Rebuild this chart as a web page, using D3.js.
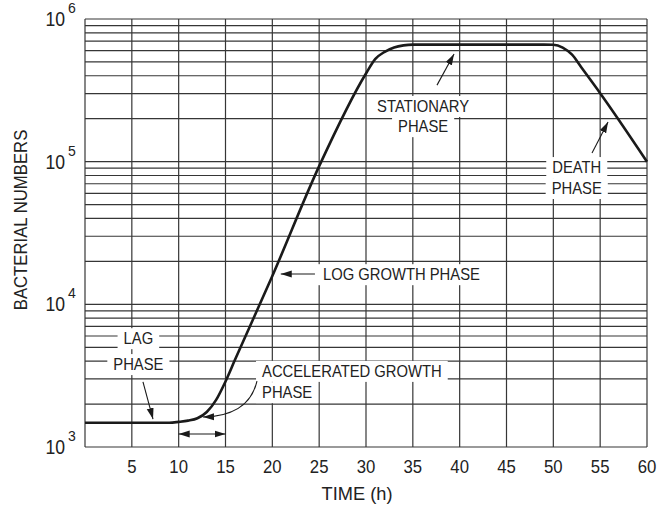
<!DOCTYPE html>
<html>
<head>
<meta charset="utf-8">
<script src="https://cdn.jsdelivr.net/npm/d3@7"></script>
<style>
  html, body { margin: 0; padding: 0; background: #fff; }
  svg text { font-family: "Liberation Sans", Arial, Helvetica, sans-serif; fill: #222; }
</style>
</head>
<body>
<svg id="chart" width="666" height="510"></svg>
<script>
// ---- data ----
const times  = [0, 9, 10, 11, 12, 13, 14, 15, 16, 20, 25, 30, 31, 32, 33, 34, 35, 49, 50, 51, 52, 53, 55, 60];
const counts = [1480, 1480, 1500, 1530, 1590, 1760, 2140, 2880, 4070, 15800, 93000, 415000,
                525000, 589000, 631000, 653000, 661000, 661000, 660000, 631000, 562000, 457000, 302000, 100000];
const xTickValues = [5, 10, 15, 20, 25, 30, 35, 40, 45, 50, 55, 60];
const yDecades = [1e3, 1e4, 1e5, 1e6];
const yExponents = ["3", "4", "5", "6"];
const xTitle = "TIME (h)";
const yTitle = "BACTERIAL NUMBERS";

// annotations in data units
const labels = [
  { lines: ["LAG", "PHASE"], t: 5.7, v: [5800, 3820], anchor: "middle", centerY: true },
  { lines: ["ACCELERATED GROWTH", "PHASE"], t: 18.9, v: [3100, 2200], anchor: "start" },
  { lines: ["LOG GROWTH PHASE"], t: 25.4, v: [16300], anchor: "start", centerY: true },
  { lines: ["STATIONARY", "PHASE"], t: 36.1, v: [223000, 161000], anchor: "middle" },
  { lines: ["DEATH", "PHASE"], t: 52.5, v: [83200, 59300], anchor: "middle" }
];
const arrows = [
  { from: [6.19, 2860], to: [7.26, 1570] },
  { from: [24.55, 16300], to: [20.9, 16300] },
  { from: [37.58, 344000], to: [39.4, 568000] },
  { from: [54.13, 115000], to: [55.84, 190000] }
];
const doubleArrow = { t0: 10, t1: 15, v: 1233 };
const curvedArrow = { from: [18.36, 2900], ctrl: [17.5, 1650], to: [12.6, 1622] };

// ---- layout ----
const L = 85, R = 647, T = 19, B = 447;
const svg = d3.select("#chart");
const x = d3.scaleLinear().domain([0, 60]).range([L, R]);
const y = d3.scaleLog().domain([1e3, 1e6]).range([B, T]);
const SQ = 0.88;
function squeeze(sel, k) {
  sel.each(function () {
    const w = this.getComputedTextLength();
    d3.select(this).attr("textLength", w * (k || SQ)).attr("lengthAdjust", "spacingAndGlyphs");
  });
}

// grid
const gridColor = "#363636";
const hVals = [];
[1e3, 1e4, 1e5].forEach(d => { for (let m = 1; m <= 9; m++) hVals.push(m * d); });
hVals.push(1e6);
const grid = svg.append("g").attr("stroke", gridColor).attr("stroke-width", 1.2);
grid.selectAll("line.h").data(hVals).join("line").attr("class", "h")
  .attr("x1", L).attr("x2", R).attr("y1", d => y(d)).attr("y2", d => y(d));
grid.selectAll("line.v").data([0].concat(xTickValues)).join("line").attr("class", "v")
  .attr("x1", d => x(d)).attr("x2", d => x(d)).attr("y1", T).attr("y2", B);

// x tick labels
const xt = svg.append("g").selectAll("text").data(xTickValues).join("text")
  .attr("x", d => x(d)).attr("y", B + 26).attr("text-anchor", "middle")
  .attr("font-size", 19).text(d => d);
squeeze(xt);

// y tick labels
const yt = svg.append("g");
const base = yt.selectAll("text.b").data(yDecades).join("text").attr("class", "b")
  .attr("x", L - 20).attr("y", d => y(d) + 7).attr("text-anchor", "end")
  .attr("font-size", 20).text("10");
squeeze(base);
yt.selectAll("text.s").data(yDecades).join("text").attr("class", "s")
  .attr("x", L - 17).attr("y", d => y(d) - 6).attr("text-anchor", "start")
  .attr("font-size", 14).text((d, i) => yExponents[i]);

// axis titles
const xtt = svg.append("text").attr("x", 357).attr("y", 500).attr("text-anchor", "middle")
  .attr("font-size", 19).text(xTitle);
squeeze(xtt, 0.96);
const ytt = svg.append("text").attr("transform", "translate(27,220) rotate(-90)")
  .attr("text-anchor", "middle").attr("font-size", 19).text(yTitle);
squeeze(ytt);

// annotation labels with white boxes
const ann = svg.append("g");
labels.forEach(lb => {
  lb.lines.forEach((s, i) => {
    const g = ann.append("g");
    const rect = g.append("rect").attr("fill", "#fff");
    const tx = g.append("text").attr("x", x(lb.t)).attr("y", y(lb.v[i]))
      .attr("text-anchor", lb.anchor).attr("font-size", 17)
      .attr("dy", lb.centerY ? "0.36em" : 0).text(s);
    squeeze(tx, 0.87);
    const bb = tx.node().getBBox();
    rect.attr("x", bb.x - 6).attr("y", bb.y - 1).attr("width", bb.width + 12).attr("height", bb.height + 2);
  });
});

// curve
const line = d3.line().x((d, i) => x(times[i])).y(d => y(d)).curve(d3.curveMonotoneX);
svg.append("path").datum(counts).attr("d", line)
  .attr("fill", "none").attr("stroke", "#1a1a1a").attr("stroke-width", 2.6)
  .attr("stroke-linejoin", "round");

// arrow markers
const defs = svg.append("defs");
defs.append("marker").attr("id", "ah").attr("markerUnits", "userSpaceOnUse")
  .attr("markerWidth", 12).attr("markerHeight", 8).attr("refX", 11).attr("refY", 4)
  .attr("orient", "auto-start-reverse")
  .append("path").attr("d", "M0,0.5 L11,4 L0,7.5 Z").attr("fill", "#1a1a1a");

const ar = svg.append("g").attr("stroke", "#1a1a1a").attr("stroke-width", 1.1).attr("fill", "none");
arrows.forEach(a => {
  ar.append("line").attr("x1", x(a.from[0])).attr("y1", y(a.from[1]))
    .attr("x2", x(a.to[0])).attr("y2", y(a.to[1])).attr("marker-end", "url(#ah)");
});
ar.append("line").attr("x1", x(doubleArrow.t0)).attr("x2", x(doubleArrow.t1))
  .attr("y1", y(doubleArrow.v)).attr("y2", y(doubleArrow.v))
  .attr("marker-start", "url(#ah)").attr("marker-end", "url(#ah)");
const cp = d3.path();
cp.moveTo(x(curvedArrow.from[0]), y(curvedArrow.from[1]));
cp.quadraticCurveTo(x(curvedArrow.ctrl[0]), y(curvedArrow.ctrl[1]), x(curvedArrow.to[0]), y(curvedArrow.to[1]));
ar.append("path").attr("d", cp.toString()).attr("marker-end", "url(#ah)");
</script>
</body>
</html>
